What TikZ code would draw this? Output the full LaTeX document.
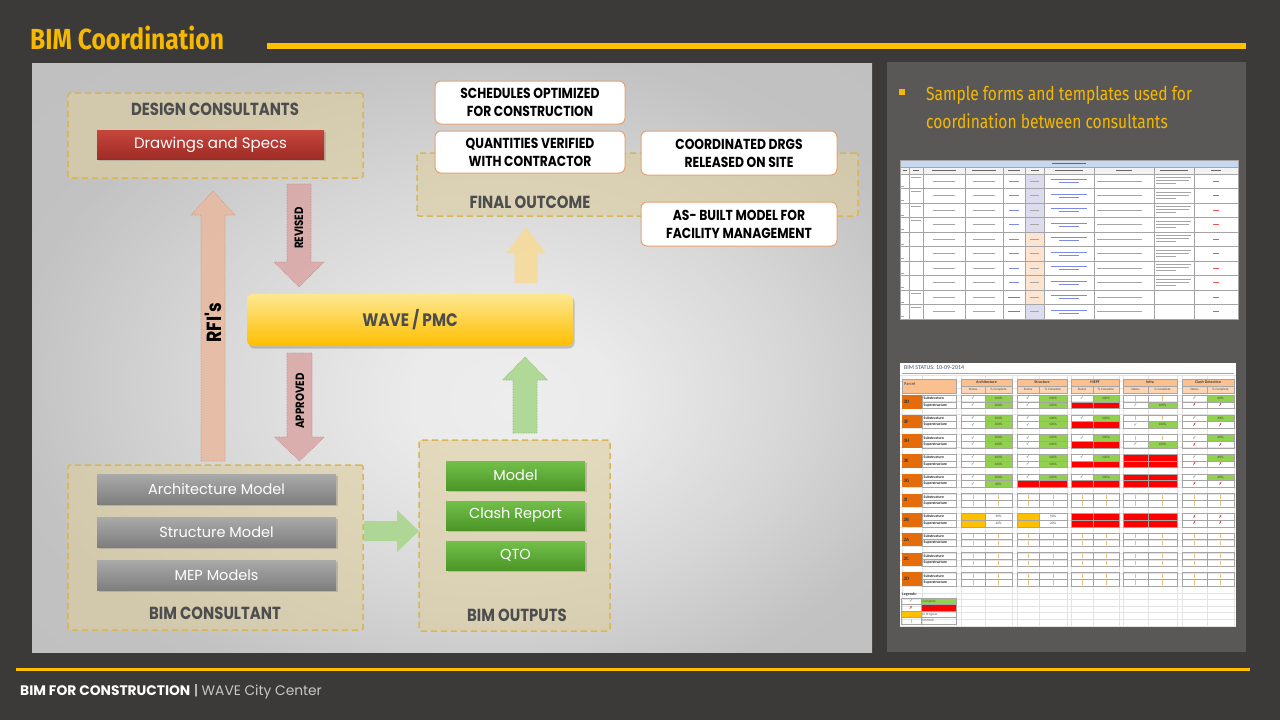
\documentclass[tikz,border=0pt]{standalone}
\usepackage{fontspec}
\setmainfont{Poppins}
\newfontfamily\titlefont[FakeStretch=0.85]{Fira Sans}
\newfontfamily\capsfont[FakeStretch=0.85]{Poppins}
\newfontfamily\notefont[FakeStretch=0.82]{Fira Sans}
\newfontfamily\tabfont{Carlito}
\newfontfamily\symfont{DejaVu Sans}
\usetikzlibrary{shadows}

% slide colours
\definecolor{slate}{RGB}{59,58,57}
\definecolor{sidepanel}{RGB}{89,88,87}
\definecolor{accent}{RGB}{255,192,0}
\definecolor{titlegold}{RGB}{246,184,0}
\definecolor{footgray}{RGB}{200,200,200}
\definecolor{tanfill}{RGB}{222,207,160}
\definecolor{dashgold}{RGB}{214,182,86}
\definecolor{labelgray}{RGB}{77,77,77}
\definecolor{redtop}{RGB}{198,70,60}
\definecolor{redbot}{RGB}{158,44,38}
\definecolor{graytop}{RGB}{170,170,170}
\definecolor{graybot}{RGB}{126,126,126}
\definecolor{greentop}{RGB}{114,192,74}
\definecolor{greenbot}{RGB}{76,150,40}
\definecolor{wavetop}{RGB}{253,232,145}
\definecolor{wavebot}{RGB}{255,190,0}
\definecolor{peachline}{RGB}{232,160,112}
\definecolor{rfifill}{RGB}{234,184,156}
\definecolor{rfiedge}{RGB}{205,145,115}
\definecolor{pinkfill}{RGB}{219,166,166}
\definecolor{pinkedge}{RGB}{195,135,135}
\definecolor{paleyellow}{RGB}{247,218,150}
\definecolor{palegreen}{RGB}{166,214,138}
\definecolor{greenedge}{RGB}{130,185,105}
% spreadsheet colours
\definecolor{xlblue}{RGB}{198,217,240}
\definecolor{xlhead}{RGB}{242,242,242}
\definecolor{xlgrid}{RGB}{165,165,165}
\definecolor{xlfaint}{RGB}{228,228,228}
\definecolor{xllav}{RGB}{220,220,238}
\definecolor{xlpeach}{RGB}{252,228,208}
\definecolor{xlink}{RGB}{70,90,220}
\definecolor{xlred}{RGB}{230,40,40}
\definecolor{hdrpeach}{RGB}{250,192,144}
\definecolor{hdrpeachlt}{RGB}{252,213,180}
\definecolor{parcelorange}{RGB}{228,108,10}
\definecolor{okfill}{RGB}{146,208,80}
\definecolor{redcell}{RGB}{255,0,0}
\definecolor{progfill}{RGB}{255,192,0}
\definecolor{holdmark}{RGB}{235,190,120}
\definecolor{checkgreen}{RGB}{40,120,40}
\definecolor{xcross}{RGB}{200,40,40}
\definecolor{titleblue}{RGB}{68,84,106}
\definecolor{ruleblue}{RGB}{142,170,219}

% soft light glow of the diagram panel
\pgfdeclareradialshading{panelglow}{\pgfpoint{4bp}{-4bp}}{%
  rgb(0bp)=(0.93,0.93,0.93); rgb(6bp)=(0.92,0.92,0.92);
  rgb(18bp)=(0.84,0.84,0.84); rgb(28bp)=(0.76,0.76,0.76);
  rgb(50bp)=(0.74,0.74,0.74)}

\newcount\cellno

\tikzset{
  groupbox/.style={draw=dashgold, line width=1.5pt, dash pattern=on 6pt off 4pt,
    fill=tanfill, fill opacity=0.6, rounded corners=2pt, inner sep=0},
  grouplabel/.style={inner sep=0, text=labelgray,
    font={\capsfont\bfseries\fontsize{17.5}{19}\selectfont}},
  boxshadow/.style={drop shadow={opacity=0.35, shadow xshift=1.5pt, shadow yshift=-2pt}},
  redbox/.style={top color=redtop, bottom color=redbot, text=white, inner sep=0,
    font={\fontsize{15}{17}\selectfont}, boxshadow},
  modelbox/.style={top color=graytop, bottom color=graybot, text=white, inner sep=0,
    minimum width=239, minimum height=30, font={\fontsize{14.5}{17}\selectfont}, boxshadow},
  outbox/.style={top color=greentop, bottom color=greenbot, text=white, inner sep=0,
    minimum width=139, minimum height=29, font={\fontsize{14.5}{17}\selectfont}, boxshadow},
  outcomebox/.style={fill=white, draw=peachline, line width=1pt, rounded corners=6pt,
    inner sep=0, align=center, text=black,
    font={\capsfont\bfseries\fontsize{14.5}{18}\selectfont}},
  pmcbox/.style={top color=wavetop, bottom color=wavebot, rounded corners=6pt,
    inner sep=0, text=labelgray, font={\capsfont\bfseries\fontsize{18}{20}\selectfont},
    drop shadow={opacity=0.4, shadow xshift=1.5pt, shadow yshift=-2.5pt}},
  flowlabel/.style={rotate=90, inner sep=0, text=black, font={\capsfont\bfseries\fontsize{12}{14}\selectfont}},
  rfiarrow/.style={fill=rfifill, fill opacity=0.8, draw=rfiedge, densely dotted, line width=0.6pt},
  pinkarrow/.style={fill=pinkfill, fill opacity=0.85, draw=pinkedge, densely dotted, line width=0.6pt},
  yellowarrow/.style={fill=paleyellow, fill opacity=0.85, draw=none},
  greenarrow/.style={fill=palegreen, fill opacity=0.85, draw=greenedge, densely dotted, line width=0.6pt},
  flatgreenarrow/.style={fill=palegreen, fill opacity=0.85, draw=none},
  % spreadsheet pieces
  xlgridline/.style={draw=xlgrid, line width=0.35pt},
  xlfaintline/.style={draw=xlfaint, line width=0.3pt},
  phgray/.style={draw=black!35, line width=1.1pt},
  phdark/.style={draw=black!60, line width=1.2pt},
  phblue/.style={draw=xlink!70, line width=1.1pt},
  phred/.style={draw=xlred!80, line width=1.1pt},
  cellnode/.style={/utils/exec={\global\advance\cellno by 1\relax}, name=cell\the\cellno, inner sep=0},
  tinytext/.style={cellnode, font={\tabfont\fontsize{3.4}{4}\selectfont}, text=black!75},
  subtext/.style={cellnode, anchor=west, font={\tabfont\bfseries\fontsize{3.8}{4}\selectfont}, text=black!85},
  hdrtext/.style={cellnode, font={\tabfont\fontsize{3.3}{4}\selectfont}, text=black!70},
  markcheck/.style={cellnode, font={\symfont\fontsize{4.5}{5}\selectfont}, text=checkgreen},
  markx/.style={cellnode, font={\symfont\fontsize{4.5}{5}\selectfont}, text=xcross},
  holdbar/.style={draw=holdmark, line width=0.6pt},
}

% vertical block arrow: centre x, half shaft, half head, tip y, head base y, tail y, style
\newcommand\vblock[7]{\path[#7] (#1-#2,#6) -- (#1-#2,#5) -- (#1-#3,#5) -- (#1,#4)
  -- (#1+#3,#5) -- (#1+#2,#5) -- (#1+#2,#6) -- cycle;}
% horizontal block arrow: centre y, half shaft, half head, tip x, head base x, tail x, style
\newcommand\hblock[7]{\path[#7] (#6,#1-#2) -- (#5,#1-#2) -- (#5,#1-#3) -- (#4,#1)
  -- (#5,#1+#3) -- (#5,#1+#2) -- (#6,#1+#2) -- cycle;}

% status sheet cells (use \xa \xm \xb and the row top \yt)
\newcommand\bimcheck{\node[markcheck] at ({(\xa+\xm)/2},\yt+3.375) {✓};}
\newcommand\bimgreen[1]{\fill[okfill] (\xm,\yt) rectangle (\xb,\yt+6.75);
  \node[tinytext] at ({(\xm+\xb)/2},\yt+3.375) {#1};}
\newcommand\bimcella{\bimcheck\bimgreen{100\%}}
\newcommand\bimcellb{\bimcheck\bimgreen{80\%}}
\newcommand\bimcellc{\bimcheck\bimgreen{60\%}}
\newcommand\bimcellr{\fill[redcell] (\xa,\yt) rectangle (\xb,\yt+6.75);}
\newcommand\bimcellx{\node[markx] at ({(\xa+\xm)/2},\yt+3.375) {✗};
  \node[markx] at ({(\xm+\xb)/2},\yt+3.375) {✗};}
\newcommand\bimcellh{\draw[holdbar] ({(\xa+\xm)/2},\yt+1.2) -- ++(0,4.35);
  \draw[holdbar] ({(\xm+\xb)/2},\yt+1.2) -- ++(0,4.35);}
\newcommand\bimcellp{\fill[progfill] (\xa,\yt) rectangle (\xm,\yt+6.75);
  \node[tinytext] at ({(\xm+\xb)/2},\yt+3.375) {90\%};}
\newcommand\bimcellq{\fill[progfill] (\xa,\yt) rectangle (\xm,\yt+6.75);
  \node[tinytext] at ({(\xm+\xb)/2},\yt+3.375) {20\%};}
% one discipline group of a parcel: group index, code of sub row, code of super row
\newcommand\bimpair[3]{%
  \pgfmathsetmacro\xa{{961,1017,1071,1123,1182}[#1]}%
  \pgfmathsetmacro\xm{{985,1039,1093,1148,1207}[#1]}%
  \pgfmathsetmacro\xb{{1012,1067,1119,1177,1234}[#1]}%
  \pgfmathsetmacro\yt{\yk}\csname bimcell#2\endcsname
  \pgfmathsetmacro\yt{\yk+6.75}\csname bimcell#3\endcsname
  \draw[xlgridline] (\xa,\yk) rectangle (\xb,\yk+13.5);
  \draw[xlgridline] (\xm,\yk) -- (\xm,\yk+13.5) (\xa,\yk+6.75) -- (\xb,\yk+6.75);}
% one parcel block: index, parcel, five group codes
\newcommand\bimblock[7]{%
  \pgfmathsetmacro\yk{395+19.7*#1}%
  \fill[parcelorange] (902,\yk) rectangle (922,\yk+13.5);
  \node[cellnode, anchor=west, font={\tabfont\bfseries\fontsize{5}{5}\selectfont}, text=black!80]
    at (903.5,\yk+6.75) {#2};
  \draw[xlgridline] (922,\yk) rectangle (956,\yk+13.5);
  \draw[xlgridline] (922,\yk+6.75) -- (956,\yk+6.75);
  \node[subtext] at (923.5,\yk+3.4) {Substructure};
  \node[subtext] at (923.5,\yk+10.1) {Superstructure};
  \bimpair{0}#3\bimpair{1}#4\bimpair{2}#5\bimpair{3}#6\bimpair{4}#7}

\begin{document}
\begin{tikzpicture}[x=1pt,y=-1pt]
\useasboundingbox (0,0) rectangle (1280,720);
\fill[slate] (0,0) rectangle (1280,720);

% ---------- header and footer ----------
\node[anchor=base west, inner sep=0, text=titlegold, font={\titlefont\bfseries\fontsize{29}{32}\selectfont}]
  (title) at (30,49.5) {BIM Coordination};
\fill[accent] (267,43) rectangle (1246,49);
\fill[accent] (16,668) rectangle (1250,671);
\node[anchor=base west, inner sep=0, text=white, font={\fontsize{13.8}{15}\selectfont}]
  (footer) at (20,695) {\textbf{BIM FOR CONSTRUCTION} | \textcolor{footgray}{WAVE City Center}};

% ---------- panels ----------
\shade[shading=panelglow] (32,63) rectangle (872,652);
\fill[sidepanel] (887,62) rectangle (1246,652);

% ---------- block arrows ----------
\vblock{213}{12}{22}{191}{215}{461}{rfiarrow}
\vblock{299}{12}{25}{287}{262}{184}{pinkarrow}
\vblock{299.5}{12.5}{25}{461}{437}{353}{pinkarrow}
\vblock{526}{11.5}{19.5}{227}{253}{283}{yellowarrow}
\vblock{525}{12}{22.5}{357}{380}{433}{greenarrow}
\hblock{531}{10}{21}{419}{397}{364}{flatgreenarrow}

\node[flowlabel, font={\capsfont\bfseries\fontsize{20.5}{22}\selectfont}] (rfis) at (213,323) {RFI's};
\node[flowlabel] (revised) at (299,228) {REVISED};
\node[flowlabel] (approved) at (300,401) {APPROVED};

% ---------- design consultants ----------
\node[groupbox, minimum width=295, minimum height=85] (design) at (215.5,135.5) {};
\node[grouplabel] (designlabel) at (215,109) {DESIGN CONSULTANTS};
\node[redbox, minimum width=227, minimum height=29] (drawings) at (210.5,144.5) {Drawings and Specs};

% ---------- final outcome ----------
\node[groupbox, minimum width=441, minimum height=63] (final) at (637.5,184.5) {};
\node[grouplabel] (finallabel) at (530,202) {FINAL OUTCOME};
\node[outcomebox, minimum width=190, minimum height=43] (sched) at (530,102.5)
  {SCHEDULES OPTIMIZED\\FOR CONSTRUCTION};
\node[outcomebox, minimum width=190, minimum height=42] (qty) at (530,152)
  {QUANTITIES VERIFIED\\WITH CONTRACTOR};
\node[outcomebox, minimum width=196, minimum height=44] (coord) at (739,153)
  {COORDINATED DRGS\\RELEASED ON SITE};
\node[outcomebox, minimum width=196, minimum height=44] (asbuilt) at (739,224)
  {AS- BUILT MODEL FOR\\FACILITY MANAGEMENT};

% ---------- WAVE / PMC ----------
\node[pmcbox, minimum width=326, minimum height=52] (wave) at (410,320) {WAVE / PMC};

% ---------- BIM consultant ----------
\node[groupbox, minimum width=295, minimum height=165] (bimcons) at (215.5,547.5) {};
\node[modelbox] (arch) at (216.5,489) {Architecture Model};
\node[modelbox] (struct) at (216.5,532) {Structure Model};
\node[modelbox] (mep) at (216.5,575) {MEP Models};
\node[grouplabel] (bimconslabel) at (215,613) {BIM CONSULTANT};

% ---------- BIM outputs ----------
\node[groupbox, minimum width=191, minimum height=191] (outputs) at (514.5,535.5) {};
\node[outbox] (model) at (515.5,475.5) {Model};
\node[outbox] (clash) at (515.5,515.5) {Clash Report};
\node[outbox] (qto) at (515.5,555.5) {QTO};
\node[grouplabel] (outputslabel) at (517,615) {BIM OUTPUTS};

% ---------- side note ----------
\fill[titlegold] (899,89) rectangle (905,95);
\node[anchor=base west, inner sep=0, text=titlegold, font={\notefont\fontsize{19}{22}\selectfont}]
  (note1) at (926,100) {Sample forms and templates used for};
\node[anchor=base west, inner sep=0, text=titlegold, font={\notefont\fontsize{19}{22}\selectfont}]
  (note2) at (926,128) {coordination between consultants};

% ---------- RFI register sheet ----------
\fill[white] (900,160) rectangle (1238,320);
\fill[xlblue] (900,160) rectangle (1238,167);
\fill[xlhead] (900,167) rectangle (1238,174);
\foreach \r/\c in {0/xllav,1/xllav,2/xllav,3/xllav,4/xlpeach,5/xlpeach,6/xlpeach,7/xlpeach,8/xlpeach,9/xllav}
  \fill[\c] (1025,174+14.5*\r) rectangle (1044,188.5+14.5*\r);
\foreach \x in {900,909,923,965,1003,1025,1044,1094,1154,1194,1238}
  \draw[xlgridline] (\x,167) -- (\x,319);
\foreach \r in {0,...,10}
  \draw[xlgridline] (900,174+14.5*\r) -- (1238,174+14.5*\r);
\draw[xlgridline] (900,160) rectangle (1238,319);
\draw[xlgridline] (900,167) -- (1238,167);
\draw[phdark] (1052,163.5) -- (1086,163.5);
\foreach \cx/\w in {904.5/4,916/6,944/24,984/24,1014/12,1034.5/8,1069/28,1124/16,1174/28,1216/10}
  \draw[phdark] (\cx-\w/2,170.5) -- (\cx+\w/2,170.5);
\foreach \r in {0,...,9}{
  \pgfmathsetmacro\yc{181.25+14.5*\r}
  \draw[phgray] (933,\yc) -- (955,\yc);
  \draw[phgray] (973,\yc) -- (995,\yc);
  \ifnum\r<8 \draw[phblue] (1009,\yc) -- (1019,\yc); \else \draw[phred] (1008,\yc) -- (1020,\yc); \fi
  \draw[phgray] (1030,\yc) -- (1039,\yc);
  \draw[phblue] (1051,\yc-1.6) -- (1087,\yc-1.6);
  \draw[phblue] (1059,\yc+1.4) -- (1079,\yc+1.4);
  \draw[phgray] (1097,\yc) -- (1142,\yc);
  \ifnum\r<8 \draw[phgray] (1156,\yc-3.5) -- (1191,\yc-3.5) (1156,\yc-0.5) -- (1189,\yc-0.5) (1156,\yc+2.5) -- (1176,\yc+2.5); \fi
  \draw[phred] (1213,\yc) -- (1219,\yc);
  \ifnum\r<4 \draw[phgray] (911,\yc-4) -- (921,\yc-4); \fi
  \ifnum\r>7 \draw[phgray] (911,\yc-4) -- (921,\yc-4); \fi
  \draw[phgray] (901,\yc+5) -- (904,\yc+5);
}

% ---------- BIM status sheet ----------
\fill[white] (900,363) rectangle (1236,627);
\foreach \k in {0,...,38}
  \draw[xlfaintline] (900,375+6.6*\k) -- (1236,375+6.6*\k);
\foreach \x in {902,922,956,961,985,1012,1017,1039,1067,1071,1093,1119,1123,1148,1177,1182,1207,1234}
  \draw[xlfaintline] (\x,375) -- (\x,627);
\node[anchor=west, inner sep=0, text=titleblue, font={\tabfont\fontsize{6}{7}\selectfont}]
  (statustitle) at (904,368) {BIM STATUS: 10-09-2014};
\draw[ruleblue, line width=0.6pt] (902,373.5) -- (1234,373.5);
\fill[hdrpeach] (902,379) rectangle (956,393);
\draw[xlgridline] (902,379) rectangle (956,393);
\node[cellnode, anchor=west, font={\tabfont\fontsize{4.5}{5}\selectfont}, text=black!75] at (904,383.5) {Parcel};
\foreach \g/\gname in {0/Architecture,1/Structure,2/MEPF,3/Infra,4/Clash Detection}{
  \pgfmathsetmacro\xa{{961,1017,1071,1123,1182}[\g]}
  \pgfmathsetmacro\xm{{985,1039,1093,1148,1207}[\g]}
  \pgfmathsetmacro\xb{{1012,1067,1119,1177,1234}[\g]}
  \fill[hdrpeach] (\xa,379) rectangle (\xb,386);
  \fill[hdrpeachlt] (\xa,386) rectangle (\xb,393);
  \draw[xlgridline] (\xa,379) rectangle (\xb,393);
  \draw[xlgridline] (\xa,386) -- (\xb,386) (\xm,386) -- (\xm,393);
  \node[cellnode, font={\tabfont\bfseries\fontsize{4}{4}\selectfont}, text=black!75] at ({(\xa+\xb)/2},382.5) {\gname};
  \node[hdrtext] at ({(\xa+\xm)/2},389.5) {Status};
  \node[hdrtext] at ({(\xm+\xb)/2},389.5) {\% Complete};
}
\bimblock{0}{3D}{aa}{aa}{ar}{ha}{cx}
\bimblock{1}{3F}{aa}{aa}{ar}{ha}{cx}
\bimblock{2}{3H}{aa}{aa}{ar}{ha}{cx}
\bimblock{3}{3E}{aa}{aa}{ar}{rr}{cx}
\bimblock{4}{3G}{ab}{ar}{ar}{rr}{cx}
\bimblock{5}{3I}{hh}{hh}{hh}{hh}{hh}
\bimblock{6}{2B}{pq}{pq}{rr}{rr}{xx}
\bimblock{7}{2A}{hh}{hh}{hh}{hh}{hh}
\bimblock{8}{2C}{hh}{hh}{hh}{hh}{hh}
\bimblock{9}{2D}{hh}{hh}{hh}{hh}{hh}

% legend of the status sheet
\node[cellnode, anchor=west, font={\tabfont\bfseries\fontsize{4}{4}\selectfont}, text=black!80] at (902,594.5) {Legends:};
\fill[okfill] (921,598) rectangle (956,604.5);
\fill[redcell] (921,604.5) rectangle (956,611);
\fill[progfill] (901,611) rectangle (921,617.5);
\draw[xlgridline] (901,598) rectangle (956,624);
\draw[xlgridline] (921,598) -- (921,624);
\foreach \yy in {604.5,611,617.5} \draw[xlgridline] (901,\yy) -- (956,\yy);
\node[markcheck] at (911,601.25) {✓};
\node[markx] at (911,607.75) {✗};
\draw[holdbar] (911,619) -- (911,623);
\node[hdrtext, anchor=west] at (922.5,601.25) {Complete};
\node[hdrtext, anchor=west] at (922.5,607.75) {Pending};
\node[hdrtext, anchor=west] at (922.5,614.25) {In Progress};
\node[hdrtext, anchor=west] at (922.5,620.75) {On Hold};
\end{tikzpicture}
\end{document}
